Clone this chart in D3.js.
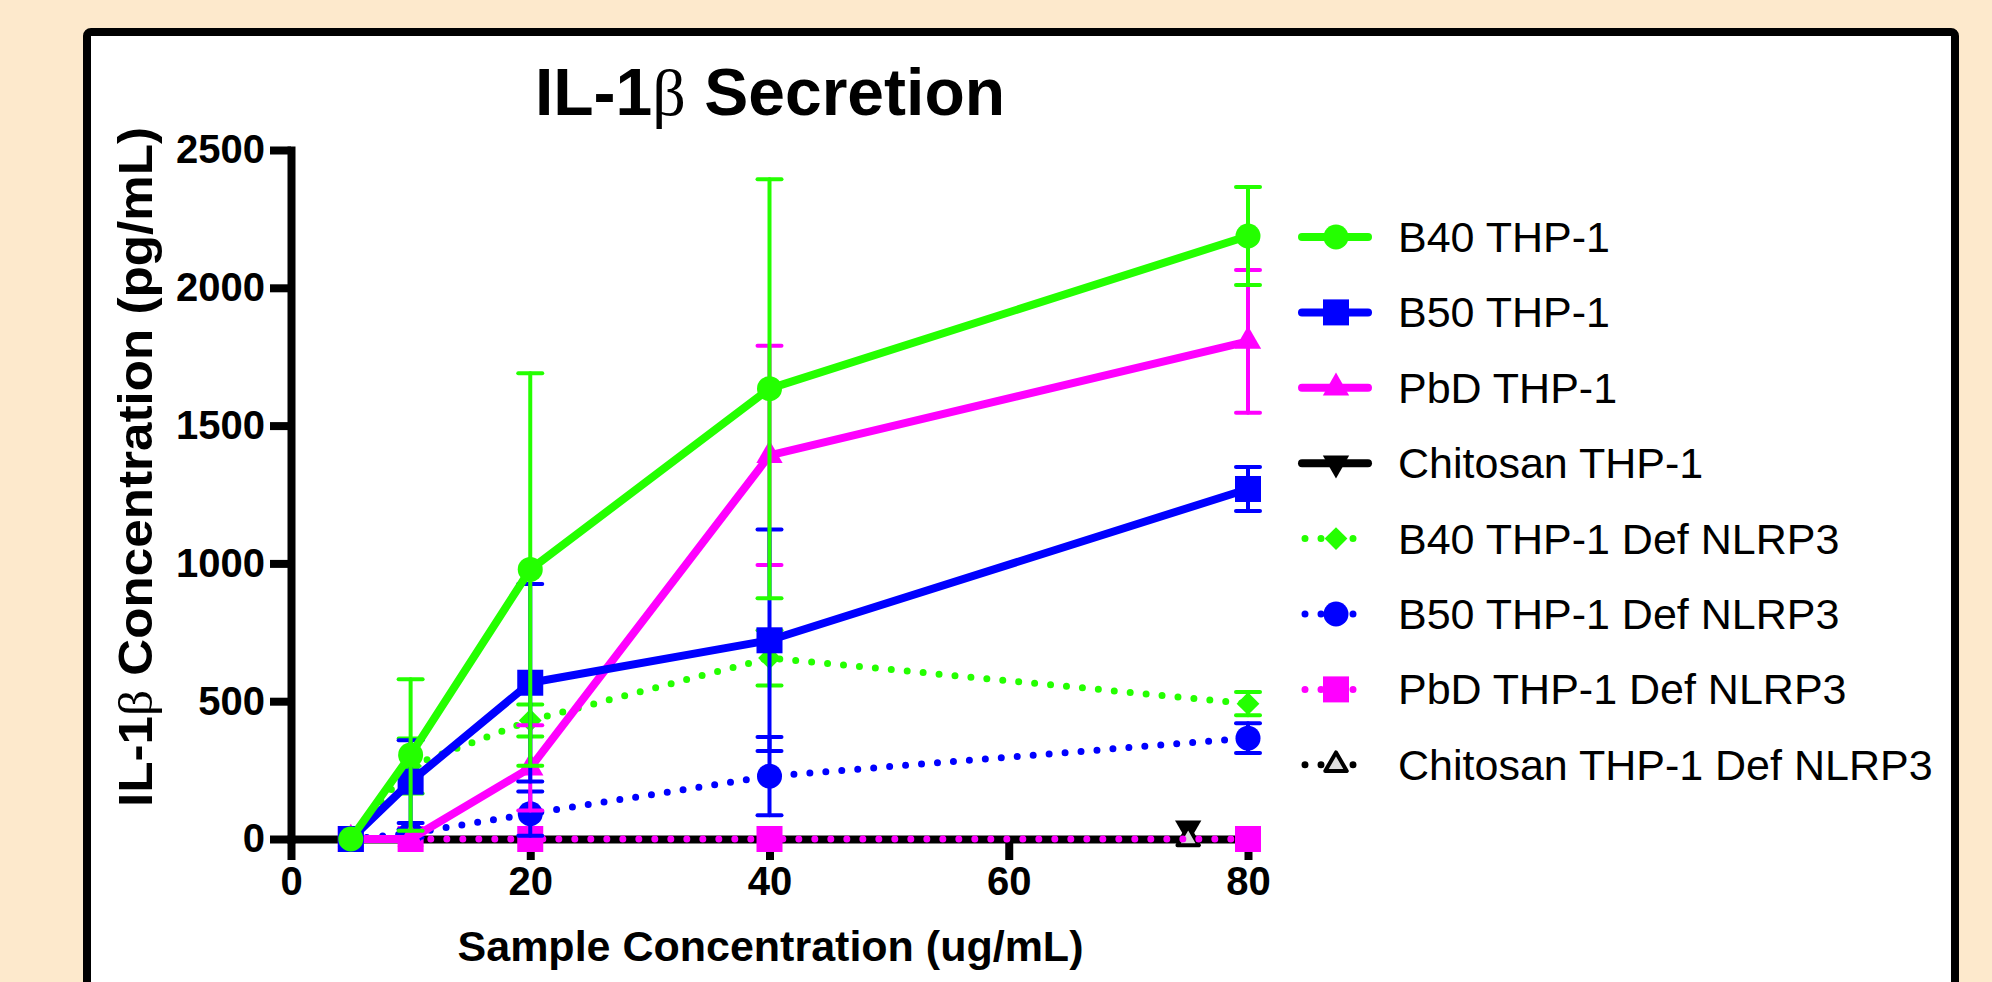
<!DOCTYPE html>
<html>
<head>
<meta charset="utf-8">
<script src="https://cdn.jsdelivr.net/npm/d3@7"></script>
<style>
  body { margin: 0; background: #fde9cc; }
  svg { display: block; }
  text { font-family: "Liberation Sans", Arial, sans-serif; fill: #000; }
  .tick text { font-weight: bold; font-size: 40px; }
</style>
</head>
<body>
<div id="chart"></div>
<script>
// data (mean, SD)
var xMain = [5, 10, 20, 40, 80];
var xChit = [75];   // chitosan only shows one point

var b40Mean = [0, 305, 978, 1634, 2188];
var b40Sd = [0, 275, 712, 760, 178];
var b50Mean = [0, 208, 567, 721, 1270];
var b50Sd = [0, 150, 358, 402, 80];
var pbdMean = [0, 0, 258, 1392, 1806];
var pbdSd = [0, 0, 155, 398, 259];
var chitMean = [40];
var chitSd = [0];
var b40DefMean = [0, 265, 430, 657, 491];
var b40DefSd = [0, 100, 58, 100, 42];
var b50DefMean = [0, 20, 92, 228, 366];
var b50DefSd = [0, 15, 80, 142, 54];
var pbdDefMean = [0, 0, 0, 0, 0];
var pbdDefSd = [0, 0, 0, 0, 0];
var chitDefMean = [0];
var chitDefSd = [0];

var seriesNames = ["B40 THP-1", "B50 THP-1", "PbD THP-1", "Chitosan THP-1",
  "B40 THP-1 Def NLRP3", "B50 THP-1 Def NLRP3", "PbD THP-1 Def NLRP3", "Chitosan THP-1 Def NLRP3"];

var xTicks = [0, 20, 40, 60, 80];
var yTicks = [0, 500, 1000, 1500, 2000, 2500];

var green = "#24ff00", blue = "#0000ff", pink = "#ff00ff";

function build(name, xs, means, sds, color, dotted, shape) {
  return {
    name: name, color: color, dotted: dotted, shape: shape,
    points: xs.map(function (x, i) { return { x: x, m: means[i], sd: sds[i] }; })
  };
}

var series = [
  build(seriesNames[0], xMain, b40Mean, b40Sd, green, false, "circle"),
  build(seriesNames[1], xMain, b50Mean, b50Sd, blue, false, "square"),
  build(seriesNames[2], xMain, pbdMean, pbdSd, pink, false, "triUp"),
  build(seriesNames[3], xChit, chitMean, chitSd, "#000", false, "triDown"),
  build(seriesNames[4], xMain, b40DefMean, b40DefSd, green, true, "diamond"),
  build(seriesNames[5], xMain, b50DefMean, b50DefSd, blue, true, "circle"),
  build(seriesNames[6], xMain, pbdDefMean, pbdDefSd, pink, true, "square"),
  build(seriesNames[7], xChit, chitDefMean, chitDefSd, "#000", true, "triOpen")
];

var svgWidth = 1992, svgHeight = 982;

var svg = d3.select("#chart").append("svg")
  .attr("width", svgWidth)
  .attr("height", svgHeight);

svg.append("rect").attr("width", svgWidth).attr("height", svgHeight).attr("fill", "#fde9cc");

// white panel with black frame (runs past the bottom edge)
svg.append("rect")
  .attr("x", 87).attr("y", 32)
  .attr("width", 1868).attr("height", 1000)
  .attr("rx", 4)
  .attr("fill", "#fff")
  .attr("stroke", "#000")
  .attr("stroke-width", 8);

var xScale = d3.scaleLinear().domain([0, 80]).range([291, 1248]);
var yScale = d3.scaleLinear().domain([0, 2500]).range([839, 150]);

// axes
var xAxis = svg.append("g")
  .attr("transform", "translate(0," + yScale(0) + ")")
  .call(d3.axisBottom(xScale).tickValues(xTicks).tickFormat(d3.format("d"))
    .tickSize(21).tickSizeOuter(0).tickPadding(7));

var yAxis = svg.append("g")
  .attr("transform", "translate(" + xScale(0) + ",0)")
  .call(d3.axisLeft(yScale).tickValues(yTicks).tickFormat(d3.format("d"))
    .tickSize(21).tickSizeOuter(0).tickPadding(5));

[xAxis, yAxis].forEach(function (ax) {
  ax.select(".domain").attr("stroke-width", 8).attr("stroke-linecap", "square");
  ax.selectAll(".tick line").attr("stroke-width", 8);
});

// titles
var title = svg.append("text")
  .attr("x", 770).attr("y", 115)
  .attr("text-anchor", "middle")
  .attr("font-size", 66)
  .attr("font-weight", "bold");
title.append("tspan").text("IL-1");
title.append("tspan").attr("font-family", "'Liberation Serif', 'DejaVu Serif', serif").attr("font-weight", "normal").text("β");
title.append("tspan").text(" Secretion");

svg.append("text")
  .attr("x", (xScale(0) + xScale(80)) / 2 + 1)
  .attr("y", 961)
  .attr("text-anchor", "middle")
  .attr("font-size", 43)
  .attr("font-weight", "bold")
  .text("Sample Concentration (ug/mL)");

var yTitle = svg.append("text")
  .attr("transform", "translate(152,467) rotate(-90)")
  .attr("text-anchor", "middle")
  .attr("font-size", 48)
  .attr("font-weight", "bold")
  .attr("textLength", 680)
  .attr("lengthAdjust", "spacingAndGlyphs");
yTitle.append("tspan").text("IL-1");
yTitle.append("tspan").attr("font-family", "'Liberation Serif', 'DejaVu Serif', serif").attr("font-weight", "normal").text("β");
yTitle.append("tspan").text(" Concentration (pg/mL)");

// markers
function marker(sel, s) {
  var p;
  if (s.shape === "circle") p = sel.append("circle").attr("r", 12.5);
  else if (s.shape === "square") p = sel.append("rect").attr("x", -13).attr("y", -13).attr("width", 26).attr("height", 26);
  else if (s.shape === "diamond") p = sel.append("path").attr("d", d3.symbol(d3.symbolSquare, 260)()).attr("transform", "rotate(45)");
  else if (s.shape === "triUp" || s.shape === "triOpen") p = sel.append("path").attr("d", d3.symbol(d3.symbolTriangle, s.shape === "triOpen" ? 200 : 300)());
  else if (s.shape === "triDown") p = sel.append("path").attr("d", d3.symbol(d3.symbolTriangle, 300)()).attr("transform", "rotate(180)");
  if (s.shape === "triOpen") p.attr("fill", "#ddd").attr("stroke", "#000").attr("stroke-width", 4).attr("stroke-linejoin", "round");
  else p.attr("fill", s.color);
}

var line = d3.line().x(function (d) { return xScale(d.x); }).y(function (d) { return yScale(d.m); });

// GraphPad draws the first data set on top, so go in reverse
var drawOrder = [3, 7, 6, 5, 4, 2, 1, 0];

drawOrder.forEach(function (k) {
  var s = series[k];
  var g = svg.append("g");

  var path = g.append("path")
    .attr("d", line(s.points))
    .attr("fill", "none")
    .attr("stroke", s.color)
    .attr("stroke-linecap", "round")
    .attr("stroke-linejoin", "round");
  if (s.dotted) path.attr("stroke-width", 7).attr("stroke-dasharray", "0 16");
  else path.attr("stroke-width", 8);

  var bars = g.selectAll(null)
    .data(s.points.filter(function (d) { return d.sd > 0; }))
    .enter().append("g")
    .attr("stroke", s.color)
    .attr("stroke-width", 4)
    .attr("stroke-linecap", "round");
  bars.append("line")
    .attr("x1", function (d) { return xScale(d.x); })
    .attr("x2", function (d) { return xScale(d.x); })
    .attr("y1", function (d) { return yScale(d.m - d.sd); })
    .attr("y2", function (d) { return yScale(d.m + d.sd); });
  [-1, 1].forEach(function (dir) {
    bars.append("line")
      .attr("x1", function (d) { return xScale(d.x) - 12; })
      .attr("x2", function (d) { return xScale(d.x) + 12; })
      .attr("y1", function (d) { return yScale(d.m + dir * d.sd); })
      .attr("y2", function (d) { return yScale(d.m + dir * d.sd); });
  });

  g.selectAll(null)
    .data(s.points)
    .enter().append("g")
    .attr("transform", function (d) { return "translate(" + xScale(d.x) + "," + yScale(d.m) + ")"; })
    .each(function () { marker(d3.select(this), s); });
});

// legend
var legend = svg.append("g");
series.forEach(function (s, i) {
  var cy = 237 + i * 75.4;
  var row = legend.append("g");
  var l = row.append("line")
    .attr("x1", s.dotted ? 1305 : 1302).attr("x2", s.dotted ? 1369 : 1368)
    .attr("y1", cy).attr("y2", cy)
    .attr("stroke", s.color)
    .attr("stroke-linecap", "round");
  if (s.dotted) l.attr("stroke-width", 7).attr("stroke-dasharray", "0 16");
  else l.attr("stroke-width", 8);
  row.append("g").attr("transform", "translate(1336," + cy + ")").call(function (sel) { marker(sel, s); });
  row.append("text")
    .attr("x", 1398).attr("y", cy + 15)
    .attr("font-size", 43)
    .text(s.name);
});
</script>
</body>
</html>
